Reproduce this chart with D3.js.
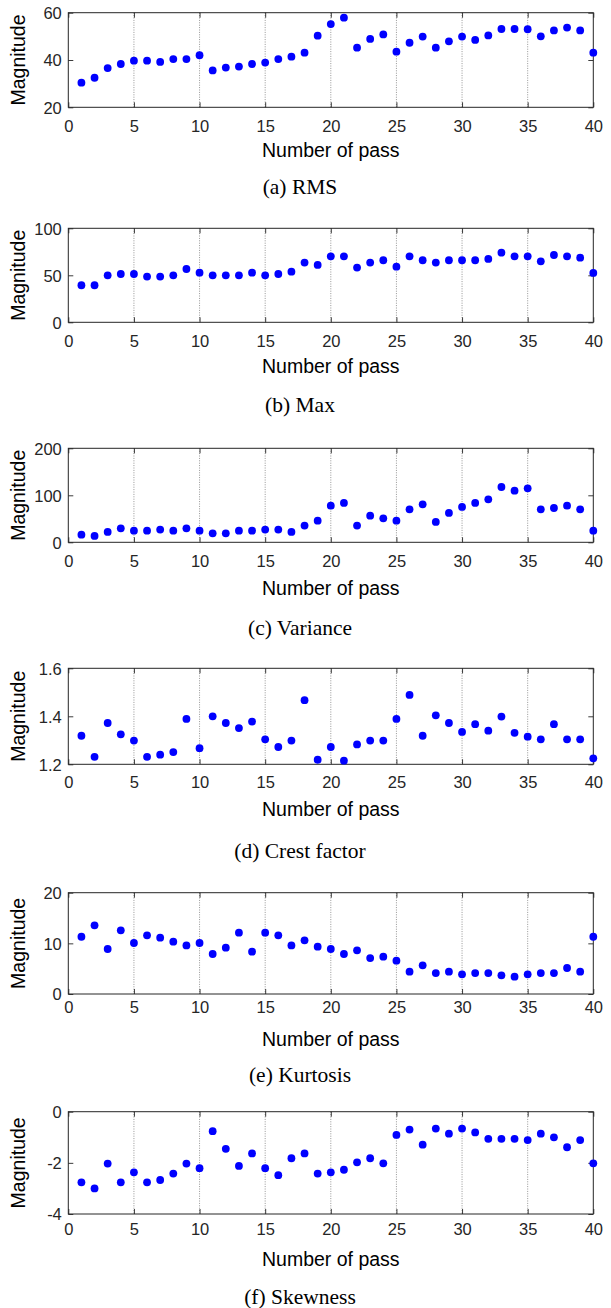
<!DOCTYPE html>
<html><head><meta charset="utf-8">
<script src="https://cdn.jsdelivr.net/npm/d3@7"></script>
<style>body{margin:0;background:#fff} svg{display:block}</style>
</head><body><svg id="c" width="611" height="1308"></svg>
<script>
// ---------- data ----------
const passes = [1,2,3,4,5,6,7,8,9,10,11,12,13,14,15,16,17,18,19,20,21,22,23,24,25,26,27,28,29,30,31,32,33,34,35,36,37,38,39,40];
const rms = [30.4,32.5,36.6,38.3,39.7,39.7,39.2,40.4,40.4,42.0,35.6,36.8,37.2,38.3,38.9,40.4,41.4,43.1,50.3,55.2,57.9,45.2,48.9,50.8,43.5,47.3,49.9,45.2,47.9,49.9,48.5,50.4,53.1,53.1,53.0,50.0,52.5,53.7,52.5,43.1];
const maxVals = [39.4,39.4,50.0,51.4,51.4,48.6,48.6,50.0,56.7,52.8,50.0,50.0,50.0,52.8,50.0,51.4,53.9,63.5,61.0,70.2,70.2,58.2,63.5,66.0,59.2,70.2,66.0,63.5,66.0,66.0,66.0,67.4,74.1,70.2,70.2,64.9,71.6,70.2,68.8,52.5];
const variance = [16.3,13.5,22.0,29.8,24.8,24.8,27.0,24.8,29.8,24.8,19.1,19.1,24.8,24.8,27.0,27.0,22.0,35.5,46.1,78.0,83.7,35.5,56.7,51.1,46.1,70.2,80.9,43.3,62.4,75.2,83.7,91.5,117.7,109.9,114.9,70.2,73.0,78.0,70.2,24.8];
const crest = [1.319,1.231,1.372,1.325,1.299,1.231,1.240,1.251,1.389,1.267,1.400,1.372,1.351,1.378,1.304,1.272,1.299,1.467,1.219,1.272,1.215,1.283,1.299,1.299,1.389,1.489,1.319,1.404,1.372,1.335,1.367,1.340,1.399,1.331,1.315,1.304,1.367,1.304,1.304,1.225];
const kurtosis = [11.3,13.55,8.88,12.57,10.07,11.58,11.12,10.33,9.6,10.07,7.9,9.14,12.1,8.36,12.1,11.58,9.6,10.6,9.34,8.88,7.9,8.62,7.1,7.37,6.58,4.41,5.66,4.14,4.41,3.88,4.14,4.14,3.68,3.42,3.88,4.14,4.14,5.13,4.41,11.3];
const skewness = [-2.76,-3.0,-2.03,-2.76,-2.37,-2.76,-2.67,-2.42,-2.03,-2.21,-0.76,-1.45,-2.12,-1.63,-2.21,-2.48,-1.82,-1.63,-2.42,-2.37,-2.27,-1.98,-1.82,-2.02,-0.91,-0.70,-1.29,-0.66,-0.86,-0.66,-0.81,-1.06,-1.06,-1.06,-1.11,-0.86,-1.0,-1.39,-1.11,-2.02];

const xTicks = [0,5,10,15,20,25,30,35,40];
const gridTicks = [5,10,15,20,25,30,35];
const yTicksRMS = [20,40,60];
const yTicksMax = [0,50,100];
const yTicksVar = [0,100,200];
const yTicksCrest = [1.2,1.4,1.6];
const yTicksKurt = [0,10,20];
const yTicksSkew = [-4,-2,0];
const captions = ["(a) RMS","(b) Max","(c) Variance","(d) Crest factor","(e) Kurtosis","(f) Skewness"];
const xLabel = "Number of pass";
const yLabel = "Magnitude";

const panels = [
  {vals: rms, ticks: yTicksRMS, fmt: d3.format("d")},
  {vals: maxVals, ticks: yTicksMax, fmt: d3.format("d")},
  {vals: variance, ticks: yTicksVar, fmt: d3.format("d")},
  {vals: crest, ticks: yTicksCrest, fmt: d3.format(".1f")},
  {vals: kurtosis, ticks: yTicksKurt, fmt: d3.format("d")},
  {vals: skewness, ticks: yTicksSkew, fmt: d => String(d)}
];

// ---------- layout ----------
const plotLeft = 68.3, plotRight = 593.3;
const tops    = [12.7, 228.3, 448.3, 668.3, 892.7, 1111.7];
const bottoms = [107.3, 322.3, 542.3, 764.3, 994, 1214];
const tickBase = [131.7, 347.3, 566.7, 788.3, 1013.3, 1235];
const xLabBase = [157.3, 373.3, 595, 815.7, 1045.7, 1265.7];
const capBase  = [194.3, 411.7, 635, 858.3, 1081.7, 1304];
const axisColor = "#262626";
const tickFont = "Liberation Sans, Arial, sans-serif";

const svg = d3.select("#c");
const x = d3.scaleLinear().domain([0,40]).range([plotLeft, plotRight]);

panels.forEach((p, i) => {
  const top = tops[i], bot = bottoms[i];
  const y = d3.scaleLinear().domain([p.ticks[0], p.ticks[p.ticks.length-1]]).range([bot, top]);
  const g = svg.append("g");

  // grid
  g.selectAll("line.grid").data(gridTicks).join("line")
    .attr("class","grid")
    .attr("x1", d => x(d)).attr("x2", d => x(d))
    .attr("y1", top).attr("y2", bot)
    .attr("stroke", "#7a7a7a").attr("stroke-width", 0.8)
    .attr("stroke-dasharray", "1,1.4");

  // ticks (inward)
  const ab = g.append("g").attr("transform", `translate(0,${bot})`)
    .call(d3.axisBottom(x).tickValues(xTicks).tickSize(-5).tickSizeOuter(0).tickFormat(d3.format("d")));
  const at = g.append("g").attr("transform", `translate(0,${top})`)
    .call(d3.axisTop(x).tickValues(xTicks).tickSize(-5).tickSizeOuter(0).tickFormat(""));
  const al = g.append("g").attr("transform", `translate(${plotLeft},0)`)
    .call(d3.axisLeft(y).tickValues(p.ticks).tickSize(-5).tickSizeOuter(0).tickFormat(p.fmt));
  const ar = g.append("g").attr("transform", `translate(${plotRight},0)`)
    .call(d3.axisRight(y).tickValues(p.ticks).tickSize(-5).tickSizeOuter(0).tickFormat(""));
  [ab, at, al, ar].forEach(a => {
    a.select(".domain").remove();
    a.selectAll(".tick line").attr("stroke", axisColor).attr("stroke-width", 0.9);
  });
  ab.selectAll(".tick text")
    .attr("y", tickBase[i] - bot).attr("dy", null)
    .attr("font-family", tickFont).attr("font-size", 16.5).attr("fill", axisColor);
  al.selectAll(".tick text")
    .attr("x", -6.5).attr("dy", "0.36em")
    .attr("font-family", tickFont).attr("font-size", 16.5).attr("fill", axisColor);

  // box
  g.append("rect").attr("x", plotLeft).attr("y", top)
    .attr("width", plotRight - plotLeft).attr("height", bot - top)
    .attr("fill", "none").attr("stroke", axisColor).attr("stroke-width", 1);

  // points
  g.selectAll("circle").data(passes).join("circle")
    .attr("cx", (d) => x(d)).attr("cy", (d, j) => y(p.vals[j]))
    .attr("r", 3.9).attr("fill", "#0000ff");

  // labels
  g.append("text").attr("x", (plotLeft + plotRight) / 2).attr("y", xLabBase[i])
    .attr("text-anchor", "middle").attr("font-family", tickFont)
    .attr("font-size", 19.5).attr("fill", "#000").text(xLabel);
  g.append("text")
    .attr("transform", `translate(25,${(top + bot) / 2}) rotate(-90)`)
    .attr("text-anchor", "middle").attr("font-family", tickFont)
    .attr("font-size", 19.5).attr("fill", "#000").text(yLabel);
  g.append("text").attr("x", 300).attr("y", capBase[i])
    .attr("text-anchor", "middle").attr("font-family", "Liberation Serif, Times New Roman, serif")
    .attr("font-size", 21.5).attr("fill", "#000").text(captions[i]);
});
</script></body></html>
